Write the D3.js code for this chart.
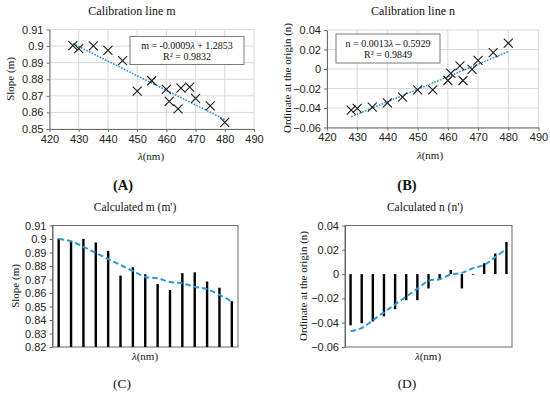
<!DOCTYPE html>
<html>
<head>
<meta charset="utf-8">
<script src="https://cdn.jsdelivr.net/npm/d3@7"></script>
<style>
  body { margin: 0; background: #fff; }
  svg { display: block; font-family: "Liberation Serif", "Times New Roman", serif; }
  .tick text { font-size: 11px; fill: #222; }
</style>
</head>
<body>
<div id="container"></div>
<script>
// wavelengths (nm) of the measured points
const lambda = [428, 430, 435, 440, 445, 450, 455, 460, 461, 464, 465, 468, 470, 475, 480];
// measured slope m and ordinate n
const mVals = [0.9003, 0.8985, 0.9001, 0.8974, 0.8912, 0.8729, 0.8791, 0.8739, 0.8667, 0.8622, 0.8747, 0.8753, 0.8685, 0.8639, 0.8540];
const nVals = [-0.0422, -0.0404, -0.0390, -0.0348, -0.0289, -0.0215, -0.0215, -0.0118, -0.0044, 0.0033, -0.0118, -0.0003, 0.0089, 0.0169, 0.0265];
// calculated m' and n' (dashed lines in C and D)
const mCalc = [0.9000, 0.8984, 0.8942, 0.8897, 0.8852, 0.8807, 0.8763, 0.8719, 0.8709, 0.8681, 0.8672, 0.8646, 0.8628, 0.8586, 0.8538];
const nCalc = [-0.0470, -0.0444, -0.0380, -0.0315, -0.0250, -0.0185, -0.0120, -0.0055, -0.0042, -0.0003, 0.0010, 0.0049, 0.0075, 0.0140, 0.0207];
// trend line end points
const trendX = [428, 480];
const trendM = [0.9015, 0.8557];
const trendN = [-0.0490, 0.0178];
// tick values
const xTicks = [420, 430, 440, 450, 460, 470, 480, 490];
const mTicksA = [0.85, 0.86, 0.87, 0.88, 0.89, 0.90, 0.91];
const mTicksC = [0.82, 0.83, 0.84, 0.85, 0.86, 0.87, 0.88, 0.89, 0.90, 0.91];
const nTicks = [-0.06, -0.04, -0.02, 0, 0.02, 0.04];

const svg = d3.select("#container").append("svg")
    .attr("width", 550)
    .attr("height", 394);

svg.append("rect").attr("width", 550).attr("height", 394).attr("fill", "#fff");

const axisColor = "#6b6b6b";
const gridColor = "#d9d9d9";
const blue = "#2f8fc6";
const fmt = d => d3.format("")(+d.toFixed(2));

function label(x, y, text, size, opts = {}) {
    const t = svg.append("text")
        .attr("x", x)
        .attr("y", y)
        .attr("text-anchor", "middle")
        .attr("font-size", size)
        .attr("fill", "#111")
        .text(text);
    if (opts.bold) t.attr("font-weight", "bold");
    if (opts.rotate) t.attr("transform", `rotate(-90, ${x}, ${y})`);
    return t;
}

function lambdaLabel(x, y) {
    const t = svg.append("text")
        .attr("x", x).attr("y", y)
        .attr("text-anchor", "middle")
        .attr("font-size", 11)
        .attr("fill", "#111");
    t.append("tspan").attr("font-style", "italic").text("λ");
    t.append("tspan").text("(nm)");
}

function styleAxis(g) {
    g.selectAll(".domain").attr("stroke", axisColor);
    g.selectAll(".tick line").attr("stroke", axisColor);
}

// scatter panel with trend line and equation box
function scatterPanel(cfg) {
    const x = d3.scaleLinear().domain([420, 490]).range(cfg.xr);
    const y = d3.scaleLinear().domain(cfg.yd).range(cfg.yr);
    const g = svg.append("g");

    g.append("g")
        .selectAll("line.h")
        .data(cfg.yTicks)
        .enter().append("line")
        .attr("x1", cfg.xr[0]).attr("x2", cfg.xr[1])
        .attr("y1", d => y(d)).attr("y2", d => y(d))
        .attr("stroke", gridColor);
    g.append("g")
        .selectAll("line.v")
        .data(xTicks)
        .enter().append("line")
        .attr("x1", d => x(d)).attr("x2", d => x(d))
        .attr("y1", cfg.yr[0]).attr("y2", cfg.yr[1])
        .attr("stroke", gridColor);

    const xAxis = g.append("g")
        .attr("transform", `translate(0, ${cfg.yr[0]})`)
        .call(d3.axisBottom(x).tickValues(xTicks).tickSize(3).tickSizeOuter(0).tickPadding(3));
    styleAxis(xAxis);

    const yAxis = g.append("g")
        .attr("transform", `translate(${cfg.xr[0]}, 0)`)
        .call(d3.axisLeft(y).tickValues(cfg.yTicks).tickSize(3).tickSizeOuter(0).tickPadding(3).tickFormat(fmt));
    styleAxis(yAxis);

    // legend box
    g.append("rect")
        .attr("x", cfg.box[0]).attr("y", cfg.box[1])
        .attr("width", cfg.box[2]).attr("height", cfg.box[3])
        .attr("fill", "#fff")
        .attr("stroke", "#7a7a7a");
    const cx = cfg.box[0] + cfg.box[2] / 2;
    const eq = g.append("text")
        .attr("x", cx).attr("y", cfg.box[1] + 12.5)
        .attr("text-anchor", "middle").attr("font-size", 10).attr("fill", "#111");
    eq.append("tspan").text(cfg.eq[0]);
    eq.append("tspan").attr("font-style", "italic").text("λ");
    eq.append("tspan").text(cfg.eq[1]);
    g.append("text")
        .attr("x", cx).attr("y", cfg.box[1] + 23.5)
        .attr("text-anchor", "middle").attr("font-size", 10).attr("fill", "#111")
        .text(cfg.r2);

    // trend line
    const line = d3.line().x(d => x(d[0])).y(d => y(d[1]));
    g.append("path")
        .attr("d", line(trendX.map((v, i) => [v, cfg.trend[i]])))
        .attr("fill", "none")
        .attr("stroke", blue)
        .attr("stroke-width", 1.6)
        .attr("stroke-dasharray", "1.6,1.4");

    g.selectAll("path.pt")
        .data(lambda)
        .enter().append("path")
        .attr("transform", (d, i) => `translate(${x(d)}, ${y(cfg.vals[i])})`)
        .attr("d", "M-4.5,-4.5L4.5,4.5M-4.5,4.5L4.5,-4.5")
        .attr("stroke", "#1a1a1a")
        .attr("stroke-width", 1.1)
        .attr("fill", "none");
}

// bar panel with calculated dashed line
function barPanel(cfg) {
    const x = d3.scaleBand().domain(lambda).range(cfg.xr);
    const y = d3.scaleLinear().domain(cfg.yd).range(cfg.yr);
    const g = svg.append("g");

    g.append("rect")
        .attr("x", cfg.xr[0]).attr("y", cfg.yr[1])
        .attr("width", cfg.xr[1] - cfg.xr[0])
        .attr("height", cfg.yr[0] - cfg.yr[1])
        .attr("fill", "none")
        .attr("stroke", axisColor);

    const yAxis = g.append("g")
        .attr("transform", `translate(${cfg.xr[0]}, 0)`)
        .call(d3.axisLeft(y).tickValues(cfg.yTicks).tickSize(3).tickSizeOuter(0).tickPadding(3).tickFormat(fmt));
    styleAxis(yAxis);

    const bw = 2.4;
    g.selectAll("rect.bar")
        .data(lambda)
        .enter().append("rect")
        .attr("x", d => x(d) + x.bandwidth() / 2 - bw / 2)
        .attr("y", (d, i) => Math.min(y(cfg.vals[i]), y(cfg.base)))
        .attr("width", bw)
        .attr("height", (d, i) => Math.max(0.8, Math.abs(y(cfg.vals[i]) - y(cfg.base))))
        .attr("fill", "#000");

    const line = d3.line()
        .x((d, i) => x(lambda[i]) + x.bandwidth() / 2)
        .y(d => y(d))
        .curve(d3.curveCatmullRom);
    g.append("path")
        .attr("d", line(cfg.calc))
        .attr("fill", "none")
        .attr("stroke", "#2a9ad4")
        .attr("stroke-width", 2)
        .attr("stroke-dasharray", "5.5,3");
}

scatterPanel({
    xr: [49.5, 254], yr: [129, 29.5], yd: [0.85, 0.91], yTicks: mTicksA,
    vals: mVals, trend: trendM,
    box: [130, 36.5, 114, 28], eq: ["m = -0.0009", " + 1.2853"], r2: "R² = 0.9832"
});
scatterPanel({
    xr: [327, 538.5], yr: [127.5, 30], yd: [-0.06, 0.04], yTicks: nTicks,
    vals: nVals, trend: trendN,
    box: [336, 34, 104, 29], eq: ["n = 0.0013", " – 0.5929"], r2: "R² = 0.9849"
});
barPanel({
    xr: [52.5, 238], yr: [347, 225.5], yd: [0.82, 0.91], yTicks: mTicksC,
    vals: mVals, calc: mCalc, base: 0.82
});
barPanel({
    xr: [345, 512], yr: [347, 225.5], yd: [-0.06, 0.04], yTicks: nTicks,
    vals: nVals, calc: nCalc, base: 0
});

// titles and labels
label(132, 15, "Calibration line m", 12);
label(413, 15, "Calibration line n", 12);
label(135, 210.5, "Calculated m (m')", 11.5);
label(425, 210.5, "Calculated n (n')", 11.5);

label(14, 79, "Slope (m)", 11, { rotate: true });
label(291, 78, "Ordinate at the origin  (n)", 11, { rotate: true });
label(19, 286, "Slope (m)", 11, { rotate: true });
label(307, 286, "Ordinate at the origin  (n)", 11, { rotate: true });

lambdaLabel(151, 160);
lambdaLabel(430, 159);
lambdaLabel(145, 359.5);
lambdaLabel(428, 359.5);

label(123, 189.5, "(A)", 14.5, { bold: true });
label(407, 189.5, "(B)", 14.5, { bold: true });
label(122, 388, "(C)", 13.5);
label(407, 388, "(D)", 13.5);
</script>
</body>
</html>
